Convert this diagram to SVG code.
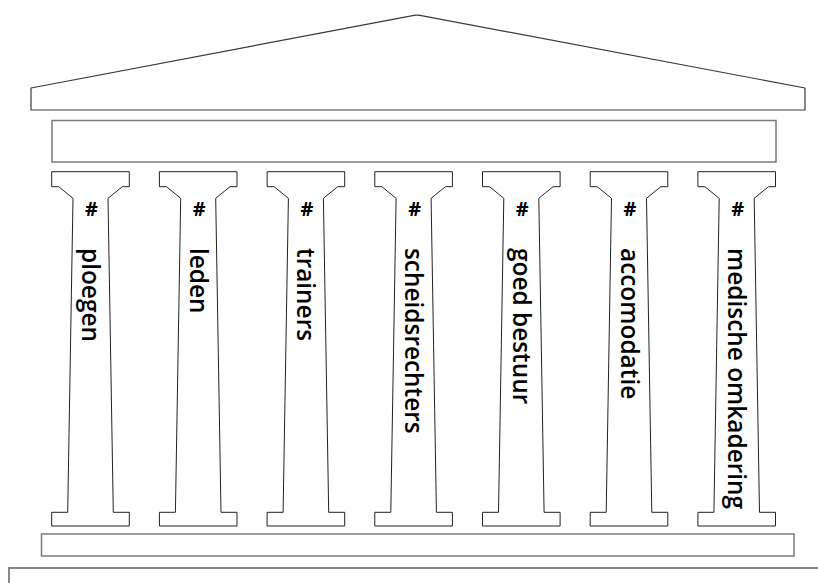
<svg xmlns="http://www.w3.org/2000/svg" xmlns:xlink="http://www.w3.org/1999/xlink" width="818" height="583" viewBox="0 0 818 583">
  <style>
    .roof { fill: #fff; stroke: #3a3a3a; stroke-width: 1.2; stroke-linejoin: round; }
    .beam { fill: #fff; stroke: #7a7a7a; stroke-width: 1.5; }
    .col { fill: #fff; stroke: #222; stroke-width: 1; }
    .hash { font-family: "Open Sans", "Liberation Sans", sans-serif; font-weight: bold; font-size: 20px; fill: #000; text-anchor: middle; }
    .lbl { font-family: "Open Sans", "Liberation Sans", sans-serif; font-weight: 600; font-size: 24.4px; fill: #000; }
  </style>
  <defs>
    <!-- one column: capital, tapering shaft, base (origin = top-left of capital) -->
    <path id="column" class="col" d="M0,0 H77.6 V15 H70.6 L56.3,26.6 L61.6,340.6 H77.6 V354.3 H0 V340.6 H16 L21.3,26.6 L7,15 H0 Z"/>
  </defs>

  <!-- roof / pediment -->
  <g id="roof">
    <path class="roof" d="M31,88 L414,15.3 Q417,14.8 420,15.3 L805,88 V110 H31 Z"/>
  </g>

  <!-- entablature -->
  <g id="entablature">
    <rect class="beam" x="52" y="120.5" width="724" height="41.5"/>
  </g>

  <!-- columns -->
  <g id="col-ploegen">
    <use xlink:href="#column" x="51.7" y="171.7"/>
    <text class="hash" x="91.5" y="216">#</text>
    <text class="lbl" transform="translate(82,248) rotate(90)">ploegen</text>
  </g>
  <g id="col-leden">
    <use xlink:href="#column" x="159.4" y="171.7"/>
    <text class="hash" x="199.2" y="216">#</text>
    <text class="lbl" transform="translate(189.7,248) rotate(90)">leden</text>
  </g>
  <g id="col-trainers">
    <use xlink:href="#column" x="267.1" y="171.7"/>
    <text class="hash" x="306.9" y="216">#</text>
    <text class="lbl" transform="translate(297.4,248) rotate(90)">trainers</text>
  </g>
  <g id="col-scheidsrechters">
    <use xlink:href="#column" x="374.8" y="171.7"/>
    <text class="hash" x="414.6" y="216">#</text>
    <text class="lbl" transform="translate(405.1,248) rotate(90)">scheidsrechters</text>
  </g>
  <g id="col-goed-bestuur">
    <use xlink:href="#column" x="482.5" y="171.7"/>
    <text class="hash" x="522.3" y="216">#</text>
    <text class="lbl" transform="translate(512.8,248) rotate(90)">goed bestuur</text>
  </g>
  <g id="col-accomodatie">
    <use xlink:href="#column" x="590.2" y="171.7"/>
    <text class="hash" x="630" y="216">#</text>
    <text class="lbl" transform="translate(620.5,248) rotate(90)">accomodatie</text>
  </g>
  <g id="col-medische-omkadering">
    <use xlink:href="#column" x="697.9" y="171.7"/>
    <text class="hash" x="737.7" y="216">#</text>
    <text class="lbl" transform="translate(728.2,248) rotate(90)">medische omkadering</text>
  </g>

  <!-- stylobate -->
  <g id="stylobate">
    <rect class="beam" x="41.5" y="534" width="752.5" height="22"/>
  </g>

  <!-- ground slab -->
  <g id="ground">
    <rect x="9" y="568" width="830" height="40" fill="#fff" stroke="#888" stroke-width="2"/>
  </g>
</svg>
